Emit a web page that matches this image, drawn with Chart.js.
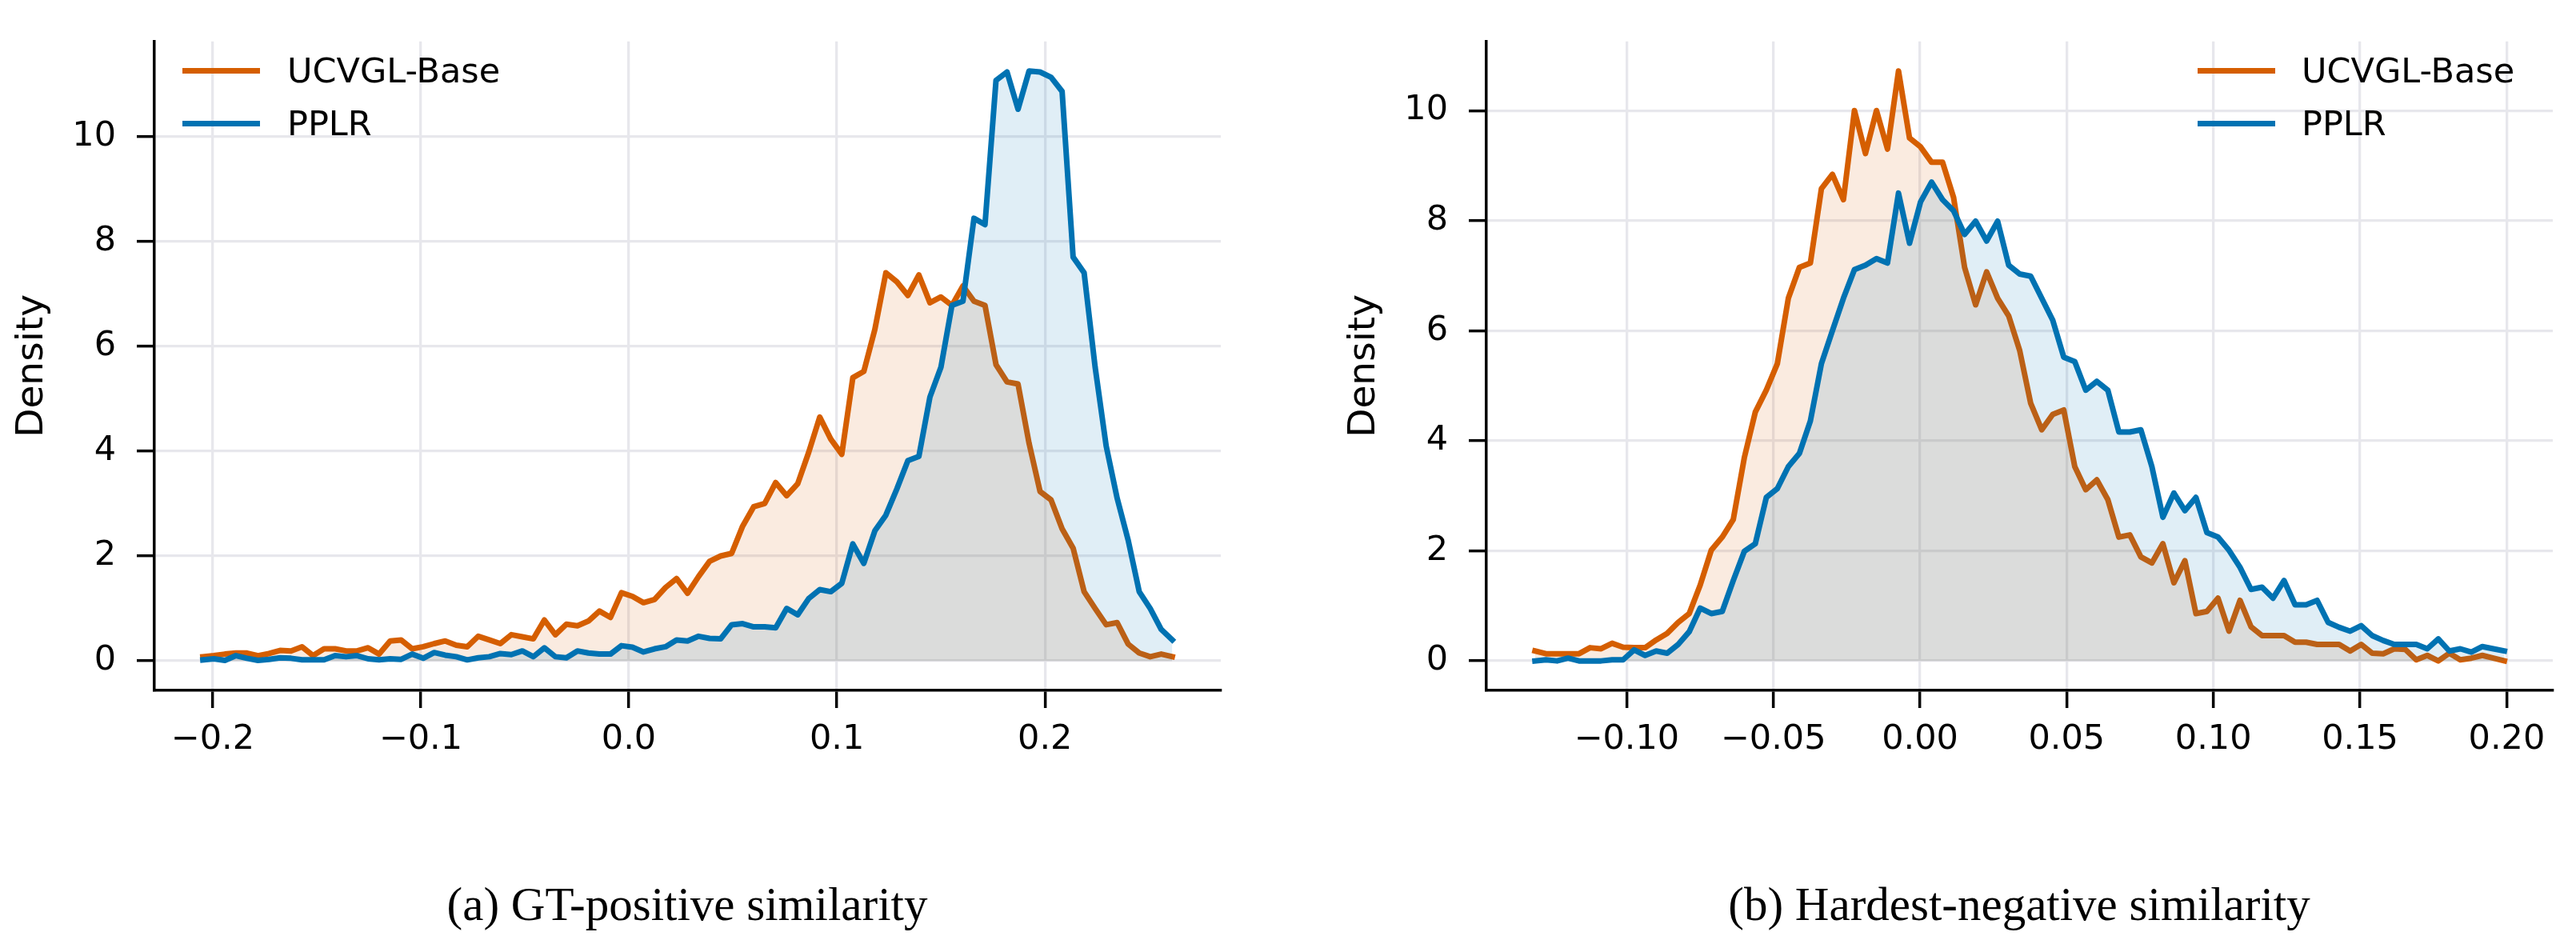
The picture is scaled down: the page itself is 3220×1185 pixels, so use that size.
<!DOCTYPE html>
<html>
<head>
<meta charset="utf-8">
<script src="https://cdn.jsdelivr.net/npm/chart.js@4.4.1/dist/chart.umd.min.js"></script>
<style>
  html, body { margin: 0; padding: 0; background: #fff; }
  body { width: 3220px; height: 1185px; position: relative; overflow: hidden; font-family: "DejaVu Sans"; }
  canvas { position: absolute; top: 0; }
  #chartA { left: 0; }
  #chartB { left: 1665px; }
  .legend-line { position: absolute; height: 7px; }
  .legend-text { position: absolute; font-size: 43px; line-height: 1; transform: translateY(-50%); color: #000; white-space: nowrap; }
  .caption { position: absolute; top: 1101px; font-family: "Liberation Serif"; font-size: 59px; line-height: 1; transform: translateX(-50%); white-space: nowrap; color: #000; }
</style>
</head>
<body>
<canvas id="chartA" width="1600" height="1000"></canvas>
<canvas id="chartB" width="1555" height="1000"></canvas>
<div class="caption" style="left:859px">(a) GT-positive similarity</div>
<div class="caption" style="left:2524px">(b) Hardest-negative similarity</div>
<script>
// Tên chuỗi và màu
const seriesNames = ["UCVGL-Base", "PPLR"];
const seriesColors = ["#d55e00", "#0072b2"];
const fillColors = ["rgba(213,94,0,0.12)", "rgba(0,114,178,0.12)"];

// (a) GT-positive similarity: tâm các bin
const binStartA = -0.2047;
const binStepA = 0.005294;
const ucvglA = [
  0.08, 0.10, 0.13, 0.15, 0.15, 0.10, 0.14, 0.20, 0.19, 0.27,
  0.10, 0.23, 0.23, 0.19, 0.19, 0.25, 0.13, 0.38, 0.40, 0.23,
  0.27, 0.33, 0.38, 0.30, 0.27, 0.47, 0.40, 0.33, 0.50, 0.46,
  0.42, 0.78, 0.50, 0.70, 0.67, 0.76, 0.95, 0.83, 1.30, 1.23,
  1.11, 1.17, 1.40, 1.57, 1.29, 1.61, 1.90, 2.00, 2.05, 2.57,
  2.94, 3.00, 3.40, 3.15, 3.38, 3.98, 4.65, 4.23, 3.94, 5.40,
  5.52, 6.32, 7.40, 7.23, 6.97, 7.36, 6.83, 6.94, 6.78, 7.15,
  6.86, 6.78, 5.65, 5.32, 5.28, 4.15, 3.23, 3.07, 2.52, 2.15,
  1.32, 1.00, 0.69, 0.73, 0.32, 0.15, 0.08, 0.13, 0.08
];
const pplrA = [
  0.02, 0.04, 0.01, 0.10, 0.05, 0.01, 0.03, 0.06, 0.05, 0.02,
  0.02, 0.02, 0.10, 0.08, 0.10, 0.04, 0.02, 0.04, 0.03, 0.13,
  0.05, 0.16, 0.11, 0.08, 0.02, 0.06, 0.08, 0.14, 0.12, 0.19,
  0.08, 0.25, 0.08, 0.06, 0.19, 0.15, 0.13, 0.13, 0.29, 0.26,
  0.17, 0.23, 0.27, 0.40, 0.38, 0.47, 0.43, 0.42, 0.69, 0.71,
  0.65, 0.65, 0.63, 1.00, 0.88, 1.19, 1.36, 1.32, 1.48, 2.23,
  1.86, 2.48, 2.78, 3.28, 3.82, 3.90, 5.03, 5.60, 6.78, 6.86,
  8.44, 8.32, 11.07, 11.23, 10.52, 11.25, 11.23, 11.13, 10.86, 7.70,
  7.40, 5.60, 4.10, 3.10, 2.30, 1.32, 1.00, 0.60, 0.40
];
const xTicksA = [-0.2, -0.1, 0.0, 0.1, 0.2];

// (b) Hardest-negative similarity
const binStartB = -0.13124;
const binStepB = 0.003755;
const ucvglB = [
  0.18, 0.13, 0.13, 0.13, 0.13, 0.24, 0.22, 0.32, 0.25, 0.24,
  0.24, 0.38, 0.50, 0.70, 0.86, 1.38, 2.01, 2.25, 2.57, 3.69,
  4.52, 4.92, 5.40, 6.59, 7.15, 7.23, 8.58, 8.84, 8.38, 10.00,
  9.22, 10.00, 9.30, 10.72, 9.50, 9.34, 9.06, 9.06, 8.42, 7.15,
  6.47, 7.07, 6.59, 6.27, 5.64, 4.68, 4.20, 4.48, 4.56, 3.53,
  3.11, 3.29, 2.93, 2.25, 2.29, 1.89, 1.78, 2.13, 1.42, 1.82,
  0.86, 0.90, 1.14, 0.54, 1.10, 0.62, 0.46, 0.46, 0.46, 0.34,
  0.34, 0.30, 0.30, 0.30, 0.18, 0.30, 0.14, 0.13, 0.22, 0.21,
  0.02, 0.10, 0.00, 0.14, 0.02, 0.05, 0.10, 0.05, 0.00
];
const pplrB = [
  0.00, 0.02, 0.00, 0.05, 0.00, 0.00, 0.00, 0.02, 0.02, 0.20,
  0.10, 0.18, 0.14, 0.30, 0.53, 0.96, 0.86, 0.90, 1.46, 1.99,
  2.13, 2.97, 3.13, 3.53, 3.77, 4.36, 5.40, 6.00, 6.59, 7.11,
  7.19, 7.31, 7.23, 8.50, 7.59, 8.34, 8.70, 8.38, 8.18, 7.75,
  7.99, 7.63, 7.99, 7.19, 7.03, 6.99, 6.59, 6.19, 5.52, 5.44,
  4.92, 5.08, 4.92, 4.16, 4.16, 4.20, 3.53, 2.61, 3.05, 2.73,
  2.97, 2.33, 2.25, 2.01, 1.70, 1.30, 1.34, 1.14, 1.46, 1.02,
  1.02, 1.10, 0.70, 0.61, 0.54, 0.64, 0.46, 0.37, 0.30, 0.30,
  0.30, 0.22, 0.40, 0.18, 0.22, 0.16, 0.26, 0.22, 0.18
];
const xTicksB = [-0.10, -0.05, 0.00, 0.05, 0.10, 0.15, 0.20];

const yTicks = [0, 2, 4, 6, 8, 10];

// Định dạng nhãn trục kiểu matplotlib (dấu trừ unicode)
function fmt(v, d) {
  const s = Math.abs(v).toFixed(d);
  return v < -1e-9 ? "\u2212" + s : s;
}

Chart.defaults.font.family = "DejaVu Sans";
Chart.defaults.color = "#000";

function makeChart(id, cfg) {
  const ctx = document.getElementById(id).getContext("2d");
  const xs = cfg.series[0].map((_, i) => cfg.binStart + i * cfg.binStep);
  const datasets = cfg.series.map((vals, k) => ({
    label: seriesNames[k],
    data: vals.map((y, i) => ({ x: xs[i], y: y })),
    borderColor: seriesColors[k],
    backgroundColor: fillColors[k],
    fill: "origin",
    order: k === 0 ? 1 : 0,
  }));
  const grid = { color: "#e7e7ec", lineWidth: 3.3, tickColor: "#000", tickLength: 22, tickWidth: 3.5 };
  const border = { display: true, color: "#000", width: 3.5 };
  return new Chart(ctx, {
    type: "line",
    data: { datasets },
    options: {
      responsive: false,
      animation: false,
      devicePixelRatio: 1,
      layout: { padding: { left: 0, top: 27, right: cfg.padRight, bottom: 0 } },
      elements: {
        line: { borderWidth: 7, tension: 0, borderJoinStyle: "round", borderCapStyle: "square" },
        point: { radius: 0, hoverRadius: 0 },
      },
      plugins: { legend: { display: false }, tooltip: { enabled: false } },
      scales: {
        x: {
          type: "linear",
          min: cfg.xMin,
          max: cfg.xMax,
          afterBuildTicks: (s) => { s.ticks = cfg.xTicks.map((v) => ({ value: v })); },
          afterFit: (s) => { s.height = 137; },
          ticks: { callback: (v) => fmt(v, cfg.dec), font: { size: 43 }, padding: 14, maxRotation: 0, autoSkip: false },
          grid, border,
        },
        y: {
          min: cfg.yMin,
          max: cfg.yMax,
          afterBuildTicks: (s) => { s.ticks = yTicks.map((v) => ({ value: v })); },
          afterFit: (s) => { s.width = 193; },
          ticks: { callback: (v) => String(v), font: { size: 43 }, padding: 26 },
          title: { display: true, text: "Density", font: { size: 47 }, padding: { top: 13, bottom: 0 } },
          grid, border,
        },
      },
    },
  });
}

const chartA = makeChart("chartA", {
  series: [ucvglA, pplrA], binStart: binStartA, binStep: binStepA,
  xMin: -0.2280, xMax: 0.2845, yMin: -0.5625, yMax: 11.8125,
  xTicks: xTicksA, dec: 1, padRight: 74,
});
const chartB = makeChart("chartB", {
  series: [ucvglB, pplrB], binStart: binStartB, binStep: binStepB,
  xMin: -0.1478, xMax: 0.2157, yMin: -0.536, yMax: 11.256,
  xTicks: xTicksB, dec: 2, padRight: 29,
});

// Chú thích (legend) bằng HTML, lấy từ dataset của chart
function addLegend(chart, lineLeft, textLeft, rowY) {
  chart.data.datasets.forEach((ds, k) => {
    const line = document.createElement("div");
    line.className = "legend-line";
    line.style.left = lineLeft + "px";
    line.style.width = "97px";
    line.style.top = (rowY[k] - 3.5) + "px";
    line.style.background = ds.borderColor;
    document.body.appendChild(line);
    const txt = document.createElement("div");
    txt.className = "legend-text";
    txt.style.left = textLeft + "px";
    txt.style.top = rowY[k] + "px";
    txt.textContent = ds.label;
    document.body.appendChild(txt);
  });
}
addLegend(chartA, 228, 359, [88, 154]);
addLegend(chartB, 2747, 2877, [88, 154]);
</script>
</body>
</html>
